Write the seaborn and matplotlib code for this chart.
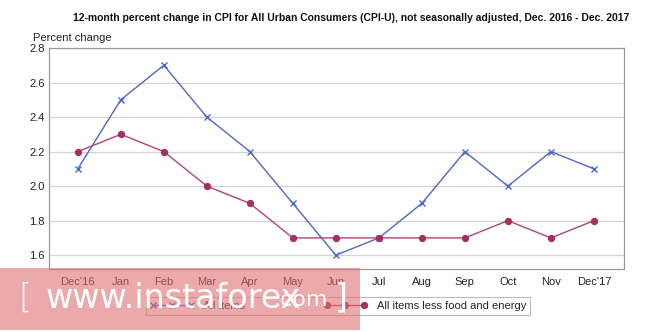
import matplotlib
matplotlib.use("Agg")
import matplotlib.pyplot as plt
import seaborn as sns
import pandas as pd
from matplotlib.patches import Rectangle

months = ["Dec'16", "Jan", "Feb", "Mar", "Apr", "May", "Jun", "Jul", "Aug", "Sep", "Oct", "Nov", "Dec'17"]
all_items = [2.1, 2.5, 2.7, 2.4, 2.2, 1.9, 1.6, 1.7, 1.9, 2.2, 2.0, 2.2, 2.1]
core_items = [2.2, 2.3, 2.2, 2.0, 1.9, 1.7, 1.7, 1.7, 1.7, 1.7, 1.8, 1.7, 1.8]
yticks = [1.6, 1.8, 2.0, 2.2, 2.4, 2.6, 2.8]

sns.set_style("white")
plt.rcParams['font.family'] = ['Liberation Sans Narrow', 'Liberation Sans', 'DejaVu Sans']

df = pd.DataFrame({"x": list(range(len(months))), "all": all_items, "core": core_items})

fig = plt.figure(figsize=(6.65, 3.32), dpi=100)
ax = fig.add_axes([49/665, 1 - 269/332, (624-49)/665, (269-48)/332])

blue = "#4F67C6"
maroon = "#A3305F"
sns.lineplot(data=df, x="x", y="all", ax=ax, color=blue, lw=1.0, marker="x",
             markersize=4.5, markeredgewidth=1.0, markeredgecolor=blue, label="All items")
sns.lineplot(data=df, x="x", y="core", ax=ax, color="#B0457A", lw=1.0, marker="o",
             markersize=4.5, markerfacecolor=maroon, markeredgecolor=maroon,
             label="All items less food and energy")

ax.set_xlim(-0.67, 12.7)
ax.set_ylim(1.52, 2.8)
ax.set_yticks(yticks)
ax.set_yticklabels([f"{v:.1f}" for v in yticks])
ax.set_xticks(range(len(months)))
ax.set_xticklabels(months)
ax.set_xlabel("")
ax.set_ylabel("")
ax.tick_params(axis="both", labelsize=8, colors="#222222")
ax.tick_params(axis="x", length=2, color="#bbbbbb", pad=4)
ax.tick_params(axis="y", length=0, pad=3)
ax.yaxis.grid(True, color="#d4d4d4", lw=0.9)
ax.set_axisbelow(True)
for s in ax.spines.values():
    s.set_color("#9a9a9a")
    s.set_linewidth(0.9)

fig.text(351/665, 1 - 18/332, "12-month percent change in CPI for All Urban Consumers (CPI-U), not seasonally adjusted, Dec. 2016 - Dec. 2017",
         ha="center", va="center", fontsize=7.5, fontweight="bold", color="#111111")
fig.text(33/665, 1 - 38/332, "Percent change", ha="left", va="center", fontsize=8, color="#222222")

leg = ax.legend(loc="center", bbox_to_anchor=(338/665, 1 - 306/332), bbox_transform=fig.transFigure,
                ncol=2, fontsize=8, frameon=True, fancybox=False, numpoints=3,
                handlelength=4.0, columnspacing=7.0, borderpad=0.4)
leg.get_frame().set_edgecolor("#aaaaaa")
leg.get_frame().set_linewidth(0.8)

# watermark overlay
fig.patches.append(Rectangle((0, 2/332), 360/665, 62/332, transform=fig.transFigure,
                             facecolor="#e07070", alpha=0.6, edgecolor="none", zorder=10))
fig.text(18/665, 1 - 298/332, "[", fontsize=24, color="white", ha="left", va="center", zorder=11,
         family=['DejaVu Sans'], fontweight="light")
fig.text(46/665, 1 - 298/332, "www.instaforex", fontsize=24, color="white", ha="left", va="center", zorder=11,
         family=['DejaVu Sans'])
fig.text(274/665, 1 - 300/332, ".com", fontsize=16, color="white", ha="left", va="center", zorder=11,
         family=['DejaVu Sans'])
fig.text(335/665, 1 - 298/332, "]", fontsize=24, color="white", ha="left", va="center", zorder=11,
         family=['DejaVu Sans'])

fig.savefig("out.png", dpi=100)
